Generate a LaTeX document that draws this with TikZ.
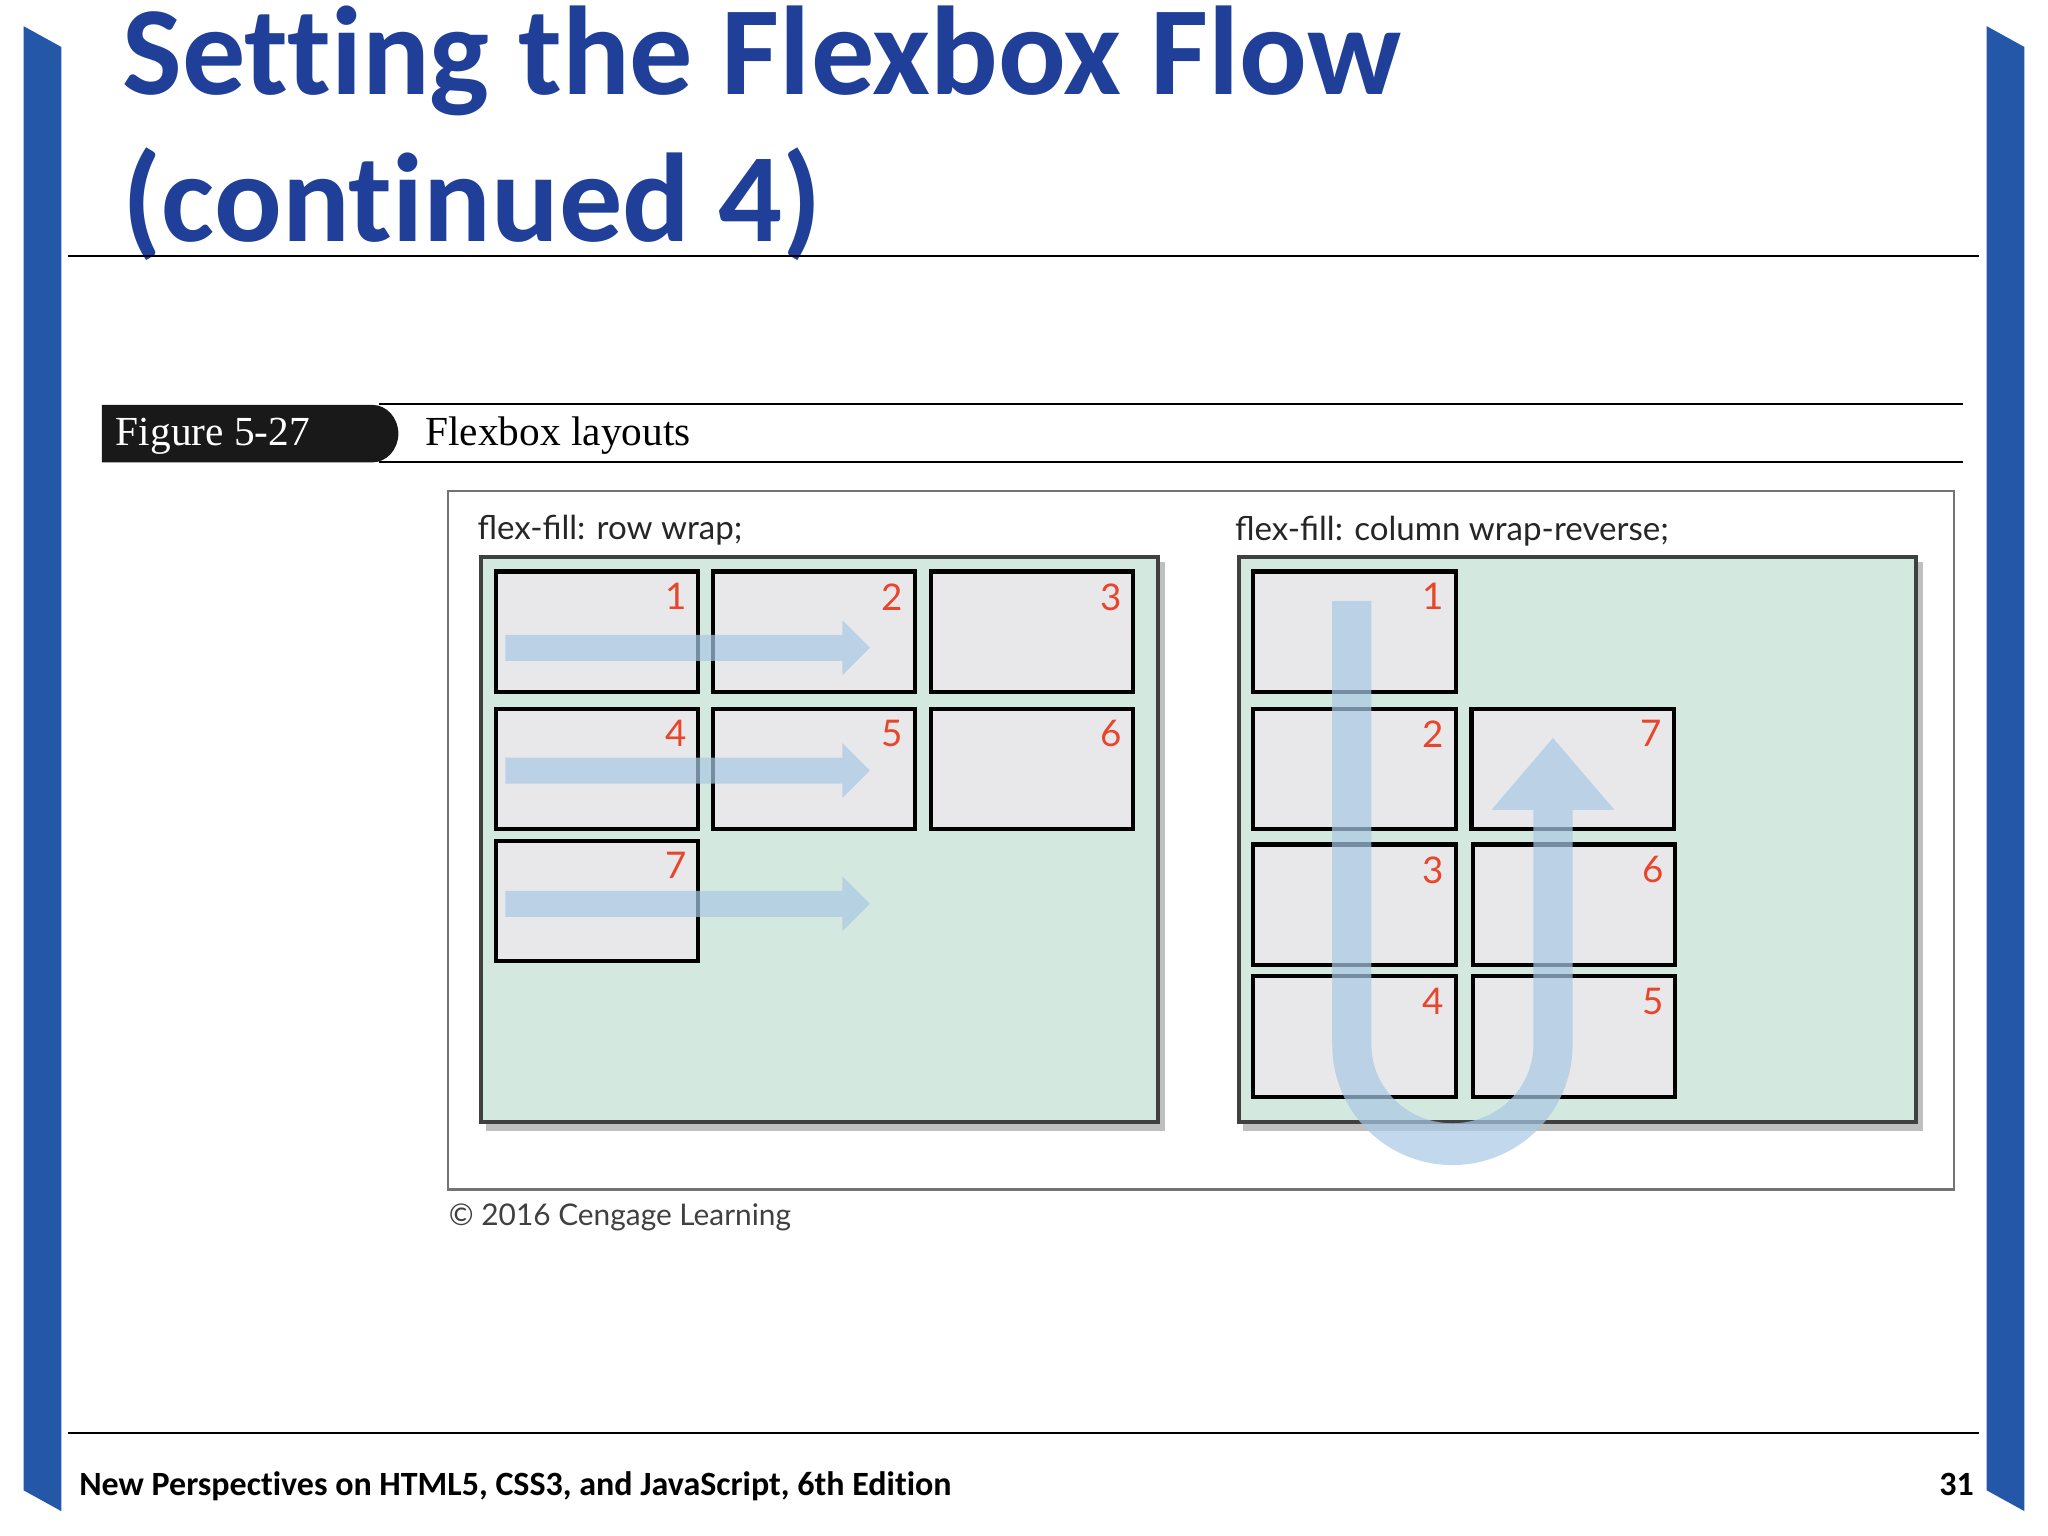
\documentclass[tikz,border=0pt]{standalone}
\usepackage{fontspec}
\setmainfont[Ligatures=NoCommon]{Carlito}
\newfontfamily\figf{Lato}
\newfontfamily\serf{Liberation Serif}
\usetikzlibrary{arrows.meta}
\definecolor{sbl}{HTML}{2457A8}
\definecolor{ttl}{HTML}{1F3F99}
\definecolor{cgr}{HTML}{D3E9E0}
\definecolor{bxg}{HTML}{E8E8EA}
\definecolor{nred}{HTML}{E8452A}
\definecolor{arb}{HTML}{A9C8E4}
\tikzset{
 itembox/.style={draw=black,line width=0.9pt,fill=bxg,anchor=north west,minimum width=1.55cm,minimum height=0.92cm,inner sep=0pt},
 num/.style={text=nred,font=\figf\fontsize{8}{9}\selectfont,anchor=north east,inner sep=0pt},
 cont/.style={draw=black!75,line width=0.9pt,fill=cgr,anchor=north west,minimum width=5.18cm,minimum height=4.32cm,inner sep=0pt},
 flow/.style={fill=arb,opacity=0.7,draw=none},
 lab/.style={font=\figf\fontsize{7.2}{9}\selectfont,anchor=base west,inner sep=0pt,text=black!85}
}
\begin{document}
\begin{tikzpicture}[x=0.01cm,y=-0.01cm]
\useasboundingbox[fill=white] (0,0) rectangle (1568,1176);
% side bars
\fill[sbl] (18,20) -- (47,36) -- (47,1157) -- (18,1141) -- cycle;
\fill[sbl] (1521,20) -- (1550,36) -- (1550,1157) -- (1521,1141) -- cycle;
% title
\node[anchor=base west,inner sep=0pt,text=ttl,font=\bfseries\fontsize{27.5}{30}\selectfont] (t1) at (93,72) {Setting the Flexbox Flow};
\node[anchor=base west,inner sep=0pt,text=ttl,font=\bfseries\fontsize{27.5}{30}\selectfont] (t2) at (93,185) {(continued 4)};
\draw[line width=0.5pt] (52,196) -- (1515,196);
\draw[line width=0.5pt] (52,1097) -- (1515,1097);
\node[anchor=base west,inner sep=0pt,font=\bfseries\fontsize{7.4}{8}\selectfont] (ft) at (60,1145) {New Perspectives on HTML5, CSS3, and JavaScript, 6th Edition};
\node[anchor=base east,inner sep=0pt,font=\bfseries\fontsize{7.4}{8}\selectfont] (pg) at (1512,1145) {31};
% figure header
\draw[line width=0.4pt] (290,309) -- (1503,309);
\draw[line width=0.4pt] (290,354) -- (1503,354);
\fill[black!90] (78,310) -- (285,310) arc[start angle=-90,end angle=90,x radius=20,y radius=22] -- (78,354) -- cycle;
\node[anchor=base west,inner sep=0pt,text=white,font=\serf\fontsize{9}{10}\selectfont] (fg) at (88,341) {Figure 5-27};
\node[anchor=base west,inner sep=0pt,font=\serf\fontsize{9}{10}\selectfont] (fl) at (325,341) {Flexbox layouts};
% frame
\draw[black!55,line width=0.6pt] (343,376) rectangle (1496,911);
\node[lab] (la) at (365,413) {flex-fill: row wrap;};
\node[lab] (lb) at (945,414) {flex-fill: column wrap-reverse;};
\node[lab,text=black!75,font=\figf\fontsize{6.5}{8}\selectfont] (cp) at (343,938) {\textcopyright{} 2016 Cengage Learning};
% shadows
\fill[black!25] (372,857) rectangle (892,866);
\fill[black!25] (885,430) rectangle (892,866);
\fill[black!25] (952,857) rectangle (1472,866);
\fill[black!25] (1465,430) rectangle (1472,866);
% containers
\node[cont] (CL) at (367,425) {};
\node[cont] (CR) at (947,425) {};
% left boxes
\foreach \n/\x/\y in {1/378/436,2/544/436,3/711/436,4/378/541,5/544/541,6/711/541,7/378/642}{
  \node[itembox] (L\n) at (\x,\y) {};
  \node[num] (LN\n) at ([xshift=-0.1cm,yshift=-0.1cm]L\n.north east) {\n};
}
% right boxes
\foreach \n/\x/\y in {1/958/436,2/958/541,3/958/645,4/958/746,7/1125/541,6/1126/645,5/1126/746}{
  \node[itembox] (R\n) at (\x,\y) {};
  \node[num] (RN\n) at ([xshift=-0.1cm,yshift=-0.1cm]R\n.north east) {\n};
}
% row arrows
\foreach \y in {496,590,692}{
  \fill[flow] (387,\y-10) -- (645,\y-10) -- (645,\y-21) -- (666,\y) -- (645,\y+21) -- (645,\y+10) -- (387,\y+10) -- cycle;
}
% U arrow
\fill[flow] (1020,460) -- (1050,460) -- (1050,800) arc[start angle=180,end angle=0,x radius=62,y radius=60] -- (1174,620) -- (1142,620) -- (1189,565) -- (1236,620) -- (1204,620) -- (1204,800) arc[start angle=0,end angle=180,x radius=92,y radius=92] -- cycle;
\end{tikzpicture}
\end{document}
